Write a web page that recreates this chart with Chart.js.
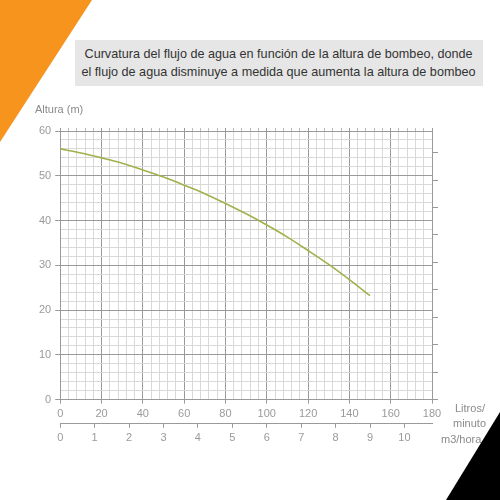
<!DOCTYPE html>
<html>
<head>
<meta charset="utf-8">
<script src="https://cdn.jsdelivr.net/npm/chart.js@4"></script>
<style>
  html, body { margin: 0; padding: 0; background: #fff; }
  #wrap { position: relative; width: 500px; height: 500px; overflow: hidden; font-family: "Liberation Sans", Arial, sans-serif; }
  #chart-box { position: absolute; left: 0; top: 0; width: 500px; height: 500px; }
  .corner-orange { position: absolute; left: 0; top: 0; width: 92px; height: 142px; background: #f7941d; clip-path: polygon(0 0, 100% 0, 0 100%); }
  .corner-black { position: absolute; right: 0; bottom: 0; width: 54px; height: 88px; background: #000; clip-path: polygon(100% 0, 100% 100%, 0 100%); }
  .title { position: absolute; left: 75px; top: 40px; width: 408px; height: 46px; background: #e6e6e6; color: #333; font-size: 13.5px; line-height: 18px; text-align: center; padding-top: 5px; box-sizing: border-box; }
  .title span { display: inline-block; white-space: nowrap; transform-origin: center; }
  .lbl { position: absolute; color: #8a8a8a; font-size: 11px; }
</style>
</head>
<body>
<div id="wrap">
  <div class="corner-orange"></div>
  <div id="chart-box"><canvas id="pumpChart"></canvas></div>
  <div class="title"><span data-w="388">Curvatura del flujo de agua en función de la altura de bombeo, donde</span><br><span data-w="394">el flujo de agua disminuye a medida que aumenta la altura de bombeo</span></div>
  <div class="lbl" style="left:35px; top:103px;">Altura (m)</div>
  <div class="lbl" style="left:455px; top:402px;">Litros/</div>
  <div class="lbl" style="left:453px; top:417px;">minuto</div>
  <div class="lbl" style="left:441px; top:433px;">m3/hora</div>
  <div class="corner-black"></div>
</div>
<script>
// Pump curve: flow (L/min) vs head (m)
const flowLpm = [0, 10, 20, 30, 40, 50, 60, 70, 80, 90, 100, 110, 120, 130, 140, 150];
const headM = [56, 55.1, 54, 52.8, 51.3, 49.7, 47.9, 46, 43.8, 41.5, 39, 36.3, 33.3, 30.2, 26.8, 23.2];

// Axis ranges
const flowMax = 180;      // L/min
const headMax = 60;       // m
const m3hMax = flowMax * 60 / 1000;  // same range in m3/hora
const barMax = headMax / 6.13;       // unlabeled pressure ticks on the right

const majorGrid = '#9a9a9a';
const minorGrid = '#d9d9d9';
const tickColor = '#9a9a9a';

// squeeze the two title lines to the width they have in the picture
document.querySelectorAll('.title span').forEach(s => {
    const w = s.getBoundingClientRect().width;
    s.style.transform = 'scaleX(' + (Number(s.dataset.w) / w) + ')';
    s.style.width = w + 'px';
    s.style.margin = '0 ' + ((Number(s.dataset.w) - w) / 2) + 'px';
});

const isMajorX = c => c.tick && c.tick.value % 20 === 0;
const isMajorY = c => c.tick && c.tick.value % 10 === 0;

const ctx = document.getElementById('pumpChart');
const chart = new Chart(ctx, {
    type: 'line',
    data: {
        datasets: [{
            data: flowLpm.map((f, i) => ({ x: f, y: headM[i] })),
            borderColor: '#9fb24c',
            borderWidth: 1.6,
            pointRadius: 0,
            cubicInterpolationMode: 'monotone',
            fill: false
        }]
    },
    options: {
        responsive: true,
        maintainAspectRatio: false,
        animation: false,
        layout: { padding: { left: 35, right: 62, top: 128, bottom: 51 } },
        plugins: { legend: { display: false }, tooltip: { enabled: false } },
        scales: {
            x: {
                type: 'linear',
                position: 'bottom',
                min: 0,
                max: flowMax,
                ticks: {
                    stepSize: 4,
                    autoSkip: false,
                    maxRotation: 0,
                    color: tickColor,
                    font: { family: 'Liberation Sans', size: 11 },
                    padding: 4,
                    callback: v => (v % 20 === 0 ? v : '')
                },
                grid: {
                    color: c => (isMajorX(c) ? majorGrid : minorGrid),
                    tickLength: 4,
                    tickColor: c => (isMajorX(c) ? majorGrid : 'rgba(0,0,0,0)')
                },
                border: { color: majorGrid },
                afterFit: s => { s.height -= 1; }
            },
            x2: {
                type: 'linear',
                position: 'bottom',
                min: 0,
                max: m3hMax,
                ticks: {
                    stepSize: 1,
                    includeBounds: false,
                    color: tickColor,
                    font: { family: 'Liberation Sans', size: 11 },
                    padding: 4
                },
                grid: { drawOnChartArea: false, tickLength: 4, tickColor: majorGrid },
                border: { color: majorGrid }
            },
            xTop: {
                type: 'linear',
                position: 'top',
                min: 0,
                max: flowMax,
                ticks: { stepSize: 4, autoSkip: false, display: false },
                grid: { drawOnChartArea: false, tickLength: 3, tickColor: c => (isMajorX(c) ? majorGrid : '#bdbdbd') },
                border: { display: false }
            },
            y: {
                type: 'linear',
                position: 'left',
                min: 0,
                max: headMax,
                ticks: {
                    stepSize: 2,
                    autoSkip: false,
                    color: tickColor,
                    font: { family: 'Liberation Sans', size: 11 },
                    padding: 4,
                    callback: v => (v % 10 === 0 ? v : '')
                },
                grid: {
                    color: c => (isMajorY(c) ? majorGrid : minorGrid),
                    tickLength: 5,
                    tickColor: c => (isMajorY(c) ? majorGrid : 'rgba(0,0,0,0)')
                },
                border: { color: majorGrid }
            },
            yR: {
                type: 'linear',
                position: 'right',
                min: 0,
                max: barMax,
                ticks: { stepSize: 1, includeBounds: false, display: false },
                grid: { drawOnChartArea: false, tickLength: 6, tickColor: majorGrid },
                border: { color: majorGrid }
            }
        }
    }
});
</script>
</body>
</html>
